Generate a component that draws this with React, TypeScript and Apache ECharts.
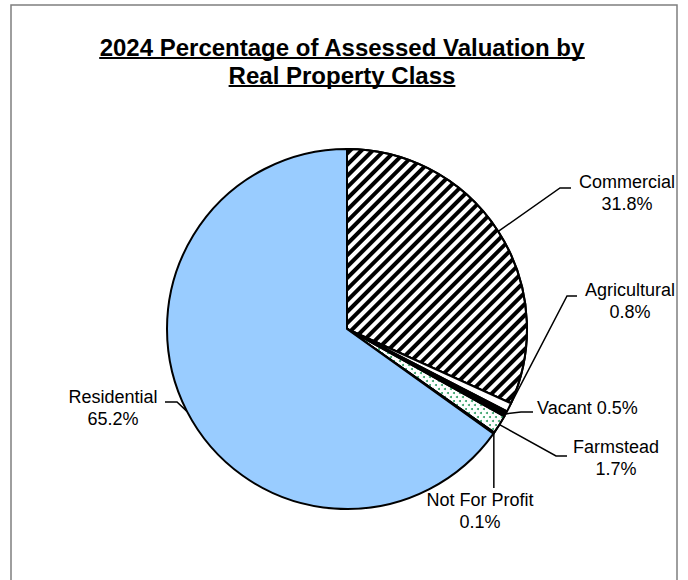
import React, { useEffect, useRef } from "react";
import * as echarts from "echarts";

const categories = ["Commercial", "Agricultural", "Vacant", "Farmstead", "Not For Profit", "Residential"];
const values = [31.8, 0.8, 0.5, 1.7, 0.1, 65.2];
const titleLines = ["2024 Percentage of Assessed Valuation by", "Real Property Class"];

const FONT = '"Liberation Sans", Arial, Helvetica, sans-serif';

// label placement (layout only)
const labelPlacement: any[] = [
  { x: 627, y: 193, align: "center", bend: [[560, 188], [571, 188]] },
  { x: 630, y: 301, align: "center", bend: [[567, 296], [577, 296]] },
  { x: 537, y: 408, align: "left", bend: [[521, 412], [533, 412]] },
  { x: 616, y: 458, align: "center", bend: [[556, 456], [567, 456]] },
  { x: 480, y: 511, align: "center", vertical: 488 },
  { x: 113, y: 408, align: "center", bend: [[177, 402], [165, 402]] },
];

const itemStyles: any[] = [
  {
    color: "#ffffff",
    decal: {
      symbol: "rect",
      symbolSize: 1,
      color: "#000000",
      dashArrayX: [1, 0],
      dashArrayY: [4, 3.2],
      rotation: -Math.PI / 4,
    },
  },
  { color: "#ffffff" },
  { color: "#000000" },
  {
    color: "#ffffff",
    decal: {
      symbol: "circle",
      symbolSize: 1,
      color: "#2f9e64",
      dashArrayX: [[2, 4], [0, 3, 2, 1]],
      dashArrayY: [2, 2],
      rotation: 0,
    },
  },
  { color: "#ffffff" },
  { color: "#99ccff" },
];

export default function App() {
  const ref = useRef<HTMLDivElement>(null);
  useEffect(() => {
    const chart = echarts.init(ref.current!, null, { renderer: "svg" });
    const ctx = document.createElement("canvas").getContext("2d")!;
    ctx.font = `bold 24px ${FONT}`;
    const tcx = 342;
    const underlines = titleLines.map((t, i) => {
      const w = ctx.measureText(t).width;
      const y = 58 + i * 28;
      return {
        type: "line",
        silent: true,
        shape: { x1: tcx - w / 2, y1: y, x2: tcx + w / 2, y2: y },
        style: { stroke: "#000", lineWidth: 2 },
      };
    });

    const data = categories.map((name, i) => ({
      name,
      value: values[i],
      itemStyle: itemStyles[i],
    }));

    chart.setOption({
      animation: false,
      backgroundColor: "#ffffff",
      title: {
        text: titleLines.join("\n"),
        left: tcx,
        top: 33,
        textAlign: "center",
        padding: 0,
        textStyle: {
          fontFamily: FONT,
          fontSize: 24,
          fontWeight: "bold",
          lineHeight: 28,
          color: "#000",
        },
      },
      graphic: [
        {
          type: "rect",
          silent: true,
          shape: { x: 11, y: 5, width: 666, height: 620 },
          style: { fill: "none", stroke: "#7f7f7f", lineWidth: 1.5 },
        },
        ...underlines,
      ],
      series: [
        {
          type: "pie",
          center: [347, 329],
          radius: 180,
          startAngle: 90,
          clockwise: true,
          avoidLabelOverlap: false,
          emphasis: { disabled: true },
          itemStyle: { borderColor: "#000", borderWidth: 2 },
          label: {
            show: true,
            position: "outside",
            color: "#000",
            fontFamily: FONT,
            fontSize: 18,
            lineHeight: 22,
            formatter: (p: any) =>
              p.name === "Vacant" ? `${p.name} ${p.value}%` : `${p.name}\n${p.value}%`,
          },
          labelLine: {
            show: true,
            length: 10,
            length2: 10,
            lineStyle: { color: "#000", width: 1.5 },
          },
          labelLayout: (params: any) => {
            const pl = labelPlacement[params.dataIndex];
            const start = params.labelLinePoints ? params.labelLinePoints[0] : null;
            let pts: any = undefined;
            if (start) {
              if (pl.vertical != null) {
                pts = [start, [start[0], pl.vertical]];
              } else {
                pts = [start, ...pl.bend];
              }
            }
            return {
              x: pl.x,
              y: pl.y,
              align: pl.align,
              verticalAlign: "middle",
              labelLinePoints: pts,
            };
          },
          data,
        },
      ],
    });
    return () => chart.dispose();
  }, []);
  return (
    <div
      ref={ref}
      style={{ position: "absolute", left: 0, top: 0, width: 688, height: 580 }}
    />
  );
}
